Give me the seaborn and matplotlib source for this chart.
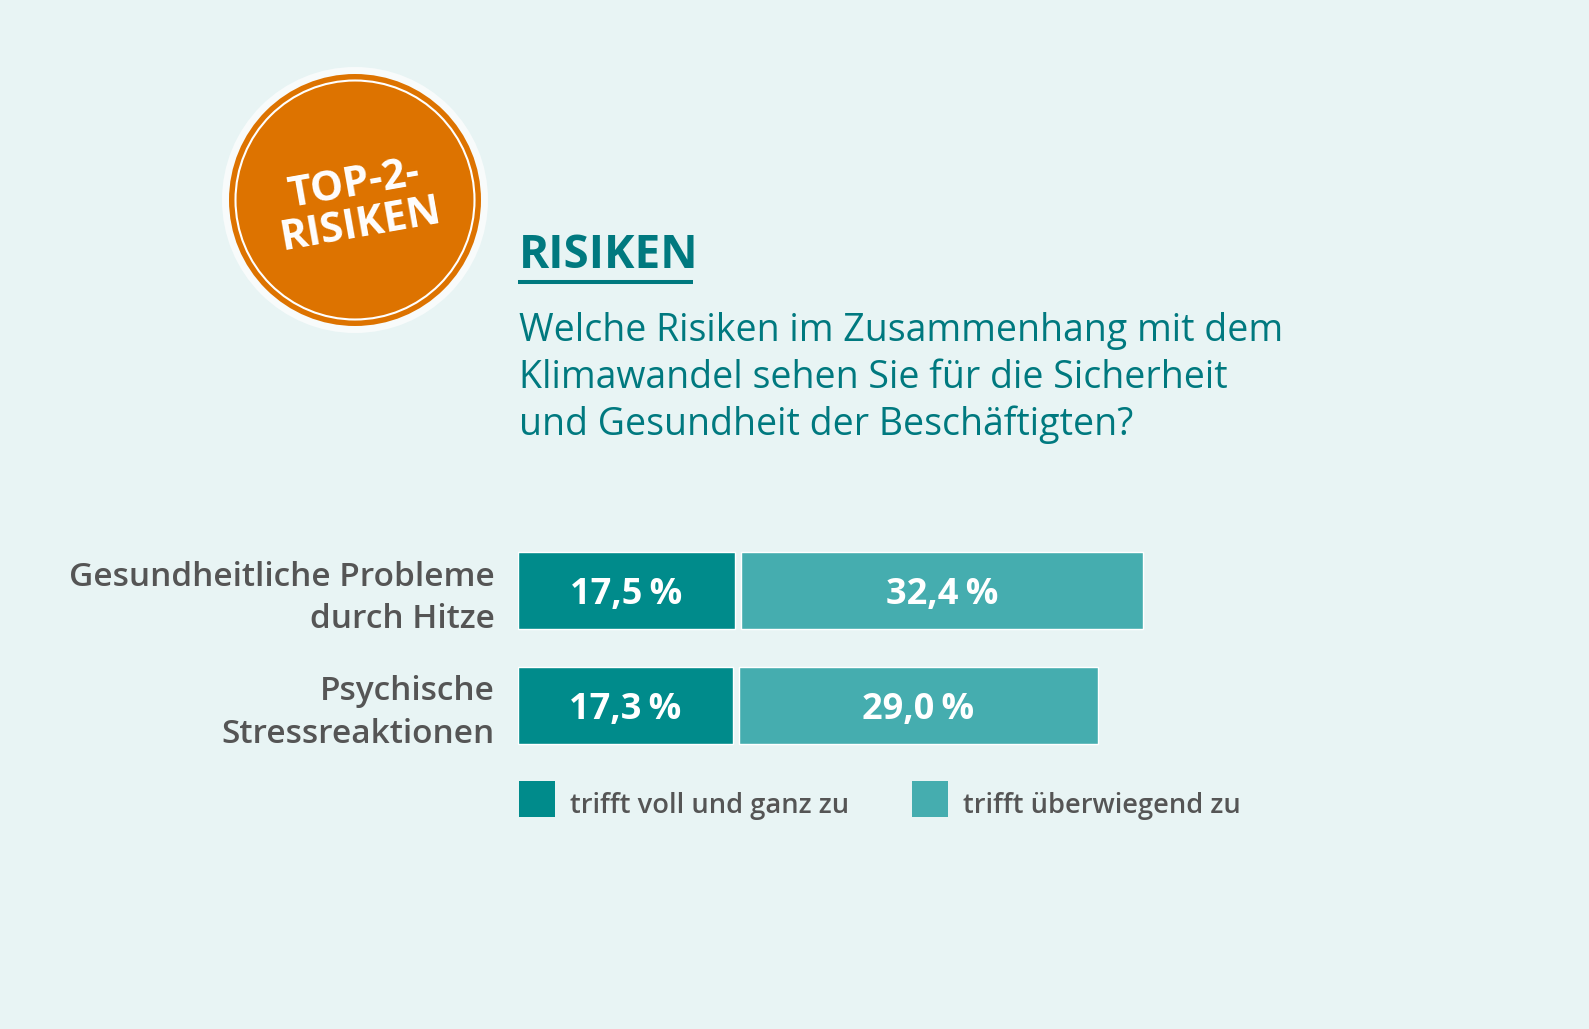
import numpy as np
import pandas as pd
import seaborn as sns
import matplotlib.pyplot as plt
import matplotlib.transforms as mtransforms
from matplotlib.patches import Circle, Patch, Rectangle
from matplotlib.legend_handler import HandlerPatch

# ---------------- data ----------------
categories = ["Gesundheitliche Probleme\ndurch Hitze", "Psychische\nStressreaktionen"]
voll = [17.5, 17.3]
ueberwiegend = [32.4, 29.0]
series_names = ["trifft voll und ganz zu", "trifft überwiegend zu"]
title = "RISIKEN"
question = ["Welche Risiken im Zusammenhang mit dem",
            "Klimawandel sehen Sie für die Sicherheit",
            "und Gesundheit der Beschäftigten?"]
badge = "TOP-2-\nRISIKEN"

# ---------------- style ----------------
BG = "#E8F4F4"
DARK = "#008B8B"
LIGHT = "#45ADAF"
TEAL = "#00797F"
GRAY = "#555555"
ORANGE = "#DD7300"

W, H = 1589, 1029
sns.set_theme(style="white")
plt.rcParams['font.family'] = ['Open Sans', 'DejaVu Sans']

fig = plt.figure(figsize=(W / 100, H / 100), dpi=100, facecolor=BG)
bg = fig.add_axes([0, 0, 1, 1], zorder=0)
bg.set_xlim(0, W)
bg.set_ylim(H, 0)
bg.axis('off')

# ---------------- bars ----------------
px_per = 12.4
x0 = 518
xmax = 60
ax_top, ax_bot = 533, 763
ax = fig.add_axes([x0 / W, (H - ax_bot) / H, px_per * xmax / W, (ax_bot - ax_top) / H], zorder=1)
ax.patch.set_alpha(0)

df = pd.DataFrame({"Kategorie": categories, "voll": voll, "ueber": ueberwiegend})
gap = 0.5
sns.barplot(data=df, x="voll", y="Kategorie", color=DARK, saturation=1,
            width=0.67, errorbar=None, ax=ax)
sns.barplot(data=df, x="ueber", y="Kategorie", color=LIGHT, saturation=1,
            width=0.67, errorbar=None, left=df["voll"].to_numpy() + gap, ax=ax)
ax.set_xlim(0, xmax)
ax.set_ylim(1.5, -0.5)

for cont in ax.containers:
    labels = [f"{b.get_width():.1f}\u2009%".replace('.', ',') for b in cont]
    anns = ax.bar_label(cont, labels=labels, label_type='center', color='white',
                        fontsize=26, fontweight='bold')
    for a in anns:
        a.xyann = (0, -3)

for s in ax.spines.values():
    s.set_visible(False)
ax.set_xticks([])
ax.set_xlabel("")
ax.set_ylabel("")
ax.tick_params(axis='y', length=0, pad=17, labelsize=24, labelcolor=GRAY)
off = mtransforms.ScaledTranslation(0, 1 / 100, fig.dpi_scale_trans)
for lbl in ax.get_yticklabels():
    lbl.set_transform(lbl.get_transform() + off)
    lbl.set_linespacing(1.38)
    lbl.set_fontweight('semibold')

# ---------------- legend ----------------
def square_patch(legend, orig_handle, xdescent, ydescent, width, height, fontsize):
    return Rectangle((-xdescent, -3.0), width, width)

handles = [Patch(facecolor=DARK, edgecolor='none'), Patch(facecolor=LIGHT, edgecolor='none')]
leg_fs = 19.6
leg = fig.legend(handles, series_names, loc='upper left', bbox_to_anchor=(519 / W, 1 - 791 / H),
                 ncol=2, frameon=False, fontsize=leg_fs, handlelength=1.32, handleheight=1.0,
                 handletextpad=0.55, columnspacing=2.31, borderpad=0, borderaxespad=0,
                 labelcolor=GRAY,
                 handler_map={Patch: HandlerPatch(patch_func=square_patch)})
for t in leg.get_texts():
    t.set_fontweight('semibold')

# ---------------- badge ----------------
cx, cy = 355, 200
bg.add_patch(Circle((cx, cy), 133, fc='#F8FBFB', ec='none'))
bg.add_patch(Circle((cx, cy), 126, fc=ORANGE, ec='none'))
bg.add_patch(Circle((cx, cy), 119.5, fc='none', ec='white', lw=1.5))
bg.text(357, 205, badge, rotation=10, rotation_mode='anchor', ha='center', va='center',
        multialignment='center', fontsize=30, fontweight='bold', color='white', linespacing=1.0)

# ---------------- title & question ----------------
bg.text(519, 268, title, fontsize=33, fontweight='bold', color=TEAL, va='baseline', ha='left')
bg.plot([518, 693], [282, 282], color=TEAL, lw=2.9, solid_capstyle='butt')
for line, yb in zip(question, [341, 388, 435]):
    bg.text(519, yb, line, fontsize=27, color=TEAL, va='baseline', ha='left')

fig.savefig('out.png', dpi=100, facecolor=BG)
